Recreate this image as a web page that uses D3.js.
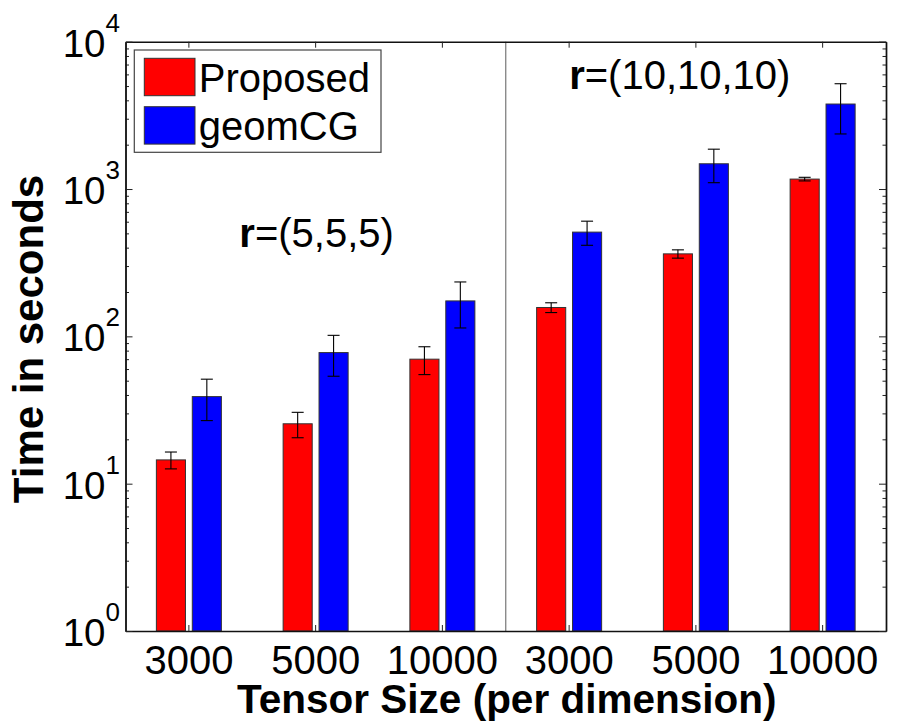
<html lang="en">
  <head>
    <meta charset="UTF-8" />
    <title>Time in seconds vs tensor size</title>
    <script src="https://d3js.org/d3.v7.min.js"></script>
  </head>
  <style>
    body { margin: 0; background: #fff; }
    svg text { font-family: "Liberation Sans", Arial, sans-serif; fill: #000; }
  </style>
  <body>
    <svg></svg>
  </body>
  <footer>
    <script>
      var width = 900;
      var height = 723;
      var margin = { top: 41.7, right: 14, bottom: 92, left: 125.5 };

      // tensor size per group (two rank settings, three sizes each)
      var sizes = ["3000", "5000", "10000", "3000", "5000", "10000"];
      var methods = ["Proposed", "geomCG"];
      var colors = ["#ff0000", "#0000ff"];
      var proposed = [14.5, 25.5, 70, 157, 363, 1168];
      var proposedErr = [1.9, 5, 15, 12, 23.5, 33];
      var geomCG = [39, 77.6, 174, 510, 1484, 3775];
      var geomCGErr = [12.2, 24, 60, 95, 380, 1410];
      var rankLabels = ["(5,5,5)", "(10,10,10)"];

      var innerW = width - margin.left - margin.right;
      var innerH = height - margin.top - margin.bottom;

      var svg = d3.select("svg").attr("width", width).attr("height", height);
      var g = svg
        .append("g")
        .attr("transform", `translate(${margin.left}, ${margin.top})`);

      var x = d3.scaleBand().domain(d3.range(sizes.length)).range([0, innerW]).padding(0);
      var xs = d3.scaleBand().domain(methods).range([-32.5, 32.5]).paddingInner(0.19);
      var y = d3.scaleLog().domain([1, 10000]).range([innerH, 0]);

      var rows = [];
      sizes.forEach(function (s, i) {
        rows.push({ i: i, m: methods[0], v: proposed[i], e: proposedErr[i], c: colors[0] });
        rows.push({ i: i, m: methods[1], v: geomCG[i], e: geomCGErr[i], c: colors[1] });
      });

      // bars
      g.append("g")
        .selectAll("rect")
        .data(rows)
        .join("rect")
        .attr("x", (d) => x(d.i) + x.bandwidth() / 2 + xs(d.m))
        .attr("y", (d) => y(d.v))
        .attr("width", xs.bandwidth())
        .attr("height", (d) => innerH - y(d.v))
        .style("fill", (d) => d.c)
        .style("stroke", "#333")
        .style("stroke-width", 1);

      // error bars
      var eb = g.append("g").style("stroke", "#000").style("stroke-width", 1.1);
      var cx = (d) => x(d.i) + x.bandwidth() / 2 + xs(d.m) + xs.bandwidth() / 2;
      eb.selectAll(".v")
        .data(rows)
        .join("line")
        .attr("x1", cx)
        .attr("x2", cx)
        .attr("y1", (d) => y(d.v + d.e))
        .attr("y2", (d) => y(d.v - d.e));
      eb.selectAll(".t")
        .data(rows)
        .join("line")
        .attr("x1", (d) => cx(d) - 6)
        .attr("x2", (d) => cx(d) + 6)
        .attr("y1", (d) => y(d.v + d.e))
        .attr("y2", (d) => y(d.v + d.e));
      eb.selectAll(".b")
        .data(rows)
        .join("line")
        .attr("x1", (d) => cx(d) - 6)
        .attr("x2", (d) => cx(d) + 6)
        .attr("y1", (d) => y(d.v - d.e))
        .attr("y2", (d) => y(d.v - d.e));

      // separator between the two rank settings
      g.append("line")
        .attr("x1", x(3))
        .attr("x2", x(3))
        .attr("y1", 0)
        .attr("y2", innerH)
        .style("stroke", "#777")
        .style("stroke-width", 1.2);

      // axes
      var majors = [1, 10, 100, 1000, 10000];
      var minors = y.ticks().filter((t) => majors.indexOf(t) < 0);

      var xAxis = g
        .append("g")
        .attr("transform", `translate(0, ${innerH})`)
        .call(
          d3.axisBottom(x).tickSize(-6).tickSizeOuter(0).tickPadding(15)
            .tickFormat((i) => sizes[i])
        );
      xAxis.selectAll("text").style("font-size", "40px");

      g.append("g").call(d3.axisTop(x).tickSize(-6).tickSizeOuter(0).tickFormat(""));

      g.append("g").call(d3.axisLeft(y).tickValues(minors).tickSize(-3.5).tickSizeOuter(0).tickFormat(""));
      g.append("g")
        .attr("transform", `translate(${innerW}, 0)`)
        .call(d3.axisRight(y).tickValues(minors).tickSize(-3.5).tickSizeOuter(0).tickFormat(""));
      g.append("g")
        .attr("transform", `translate(${innerW}, 0)`)
        .call(d3.axisRight(y).tickValues(majors).tickSize(-7).tickSizeOuter(0).tickFormat(""));

      var yAxis = g
        .append("g")
        .call(d3.axisLeft(y).tickValues(majors).tickSize(-7).tickSizeOuter(0).tickPadding(5.5));
      yAxis
        .selectAll("text")
        .text("")
        .attr("dy", null)
        .attr("y", 14.5)
        .style("font-size", "38.5px")
        .each(function (d) {
          var t = d3.select(this);
          t.append("tspan").text("10");
          t.append("tspan")
            .attr("dy", -25)
            .style("font-size", "26px")
            .text(Math.round(Math.log10(d)));
        });

      g.selectAll(".domain").style("stroke", "#111").style("stroke-width", 1.4);
      g.selectAll(".tick line").style("stroke", "#222");

      // rank annotations
      var ann = g.append("g").style("font-size", "40px");
      ann.append("text")
        .attr("x", x(1) + x.bandwidth() / 2 + 1)
        .attr("y", y(405))
        .attr("text-anchor", "middle")
        .call((t) => {
          t.append("tspan").style("font-weight", "bold").text("r");
          t.append("tspan").text("=" + rankLabels[0]);
        });
      ann.append("text")
        .attr("x", x(3) + x.bandwidth() / 2)
        .attr("y", y(4770))
        .attr("text-anchor", "start")
        .call((t) => {
          t.append("tspan").style("font-weight", "bold").text("r");
          t.append("tspan").text("=" + rankLabels[1]);
        });

      // legend
      var legend = svg.append("g").attr("transform", "translate(134.3, 50)");
      legend
        .append("rect")
        .attr("width", 246.7)
        .attr("height", 102.3)
        .style("fill", "#fff")
        .style("stroke", "#444")
        .style("stroke-width", 1.2);
      var li = legend
        .selectAll(".li")
        .data(methods)
        .join("g")
        .attr("transform", (d, i) => `translate(10, ${8.3 + i * 48.4})`);
      li.append("rect")
        .attr("width", 50.7)
        .attr("height", 37.4)
        .style("fill", (d, i) => colors[i])
        .style("stroke", "#333")
        .style("stroke-width", 1);
      li.append("text")
        .attr("x", 54.5)
        .attr("y", 33.4)
        .style("font-size", "40px")
        .text((d) => d);

      // axis titles
      svg.append("text")
        .attr("x", margin.left + innerW / 2 + 1)
        .attr("y", 713)
        .attr("text-anchor", "middle")
        .style("font-size", "40.5px")
        .style("font-weight", "bold")
        .text("Tensor Size (per dimension)");

      svg.append("text")
        .attr("transform", "translate(43, 339) rotate(-90)")
        .attr("text-anchor", "middle")
        .style("font-size", "42px")
        .style("font-weight", "bold")
        .text("Time in seconds");
    </script>
  </footer>
</html>
